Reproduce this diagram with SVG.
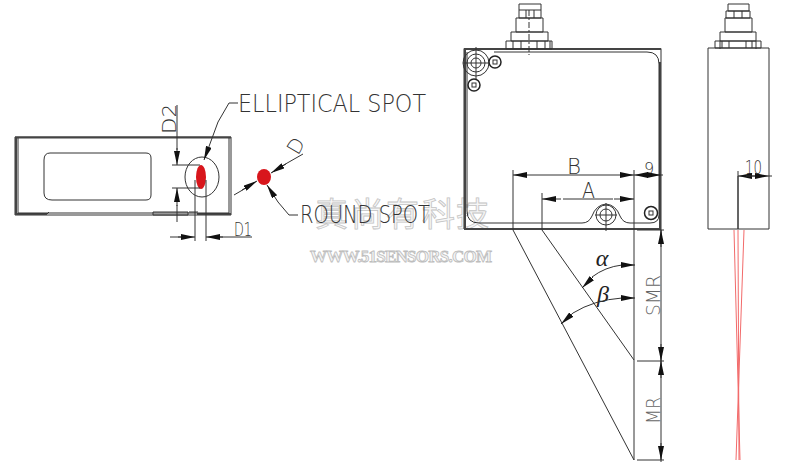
<svg xmlns="http://www.w3.org/2000/svg" width="800" height="465" viewBox="0 0 800 465">
<style>
.l{fill:none;stroke:#333;stroke-width:1}
.h{fill:none;stroke:#444;stroke-width:2}
.g{fill:none;stroke:#555;stroke-width:1}
.t{font-family:"DejaVu Sans","Liberation Sans",sans-serif;font-weight:200;fill:#333}
.m{font-family:"DejaVu Sans","Liberation Sans",sans-serif;font-weight:200;fill:#666}
.w{font-family:"Noto Sans CJK SC",sans-serif;font-size:33px;fill:#f6f6f6;stroke:#c4c4c4;stroke-width:.8}
.u{font-family:"Liberation Serif",serif;font-weight:700;font-size:17px;fill:#f4f4f4;stroke:#bdbdbd;stroke-width:.8}
.r{fill:none;stroke:#f26a6a;stroke-width:1}
.ar{fill:none;stroke:#333;stroke-width:1;marker-end:url(#a)}
</style>
<defs>
<marker id="a" markerUnits="userSpaceOnUse" markerWidth="14" markerHeight="6" refX="14" refY="3" orient="auto"><path d="M0 0L14 3L0 6z" fill="#111"/></marker>
</defs>
<rect width="800" height="465" fill="#fff"/>
<g id="watermark">
<text class="w" x="315" y="226">真</text><text class="w" x="351" y="226">尚</text><text class="w" x="386" y="226">有</text><text class="w" x="422" y="226">科</text><text class="w" x="456" y="226">技</text>
<text class="u" x="310" y="262" textLength="182">WWW.51SENSORS.COM</text>
</g>
<g id="front-view">
<path class="l" d="M15 137H231V215H15Z"/>
<path class="h" d="M15 137.500H231M16 137V214M15 214H47M197 214H231"/>
<path class="l" d="M18 138V213H229V138M47 214L49 212M153 212H188V215H153ZM189 212H198"/>
<path class="l" d="M50 153H146Q151 153 151 158V195Q151 200 146 200H52Q44 200 44 193V160Q44 153 50 153Z"/>
<ellipse class="l" cx="202" cy="177" rx="17" ry="20"/>
</g>
<g id="elliptical-spot">
<ellipse cx="201" cy="177" rx="5" ry="12" fill="#d8161c"/>
<text class="t" x="238" y="112" font-size="25" textLength="188" lengthAdjust="spacingAndGlyphs">ELLIPTICAL SPOT</text>
</g>
<g id="round-spot">
<ellipse cx="264" cy="177" rx="7" ry="8" fill="#d8161c"/>
<text class="t" x="300" y="223" font-size="25" textLength="130" lengthAdjust="spacingAndGlyphs">ROUND SPOT</text>
</g>
<g id="dim-labels">
<text class="t" transform="translate(176 134) rotate(-90)" font-size="20" textLength="30" lengthAdjust="spacingAndGlyphs">D2</text>
<text class="t" x="234" y="236" font-size="20" textLength="18" lengthAdjust="spacingAndGlyphs">D1</text>
<text class="t" transform="translate(298 156) rotate(-60)" font-size="20">D</text>
<text class="t" x="567" y="174" font-size="21" textLength="14" lengthAdjust="spacingAndGlyphs">B</text>
<text class="t" x="582" y="198" font-size="21" textLength="13" lengthAdjust="spacingAndGlyphs">A</text>
<text class="t" x="644" y="174" font-size="16">9</text>
<text class="t" x="745" y="174" font-size="19" textLength="17" lengthAdjust="spacingAndGlyphs">10</text>
<text x="602" y="266" font-family="'Liberation Serif',serif" font-style="italic" font-size="24" fill="#222" text-anchor="middle">α</text>
<text x="603" y="302" font-family="'Liberation Serif',serif" font-style="italic" font-size="24" fill="#222" text-anchor="middle">β</text>
<text class="m" transform="translate(660 316) rotate(-90)" font-size="19" textLength="41" lengthAdjust="spacingAndGlyphs">SMR</text>
<text class="m" transform="translate(660 424) rotate(-90)" font-size="19" textLength="27" lengthAdjust="spacingAndGlyphs">MR</text>
</g>
<g id="side-body">
<path class="l" d="M464 48.500H661V229H464Z"/>
<path class="h" d="M464 49H661M465 49V229M464 229H661M660 62V229"/>
<path class="l" d="M467 52V211Q467 223 479 223H582Q589 223 592 216Q596 205 606 204Q616 205 620 216Q623 223 630 223H650Q659 223 659 215V64Q659 52 647 52H494"/>
<circle class="l" cx="476" cy="63" r="13"/><circle class="l" cx="476" cy="63" r="9"/><circle class="l" cx="476" cy="63" r="5"/>
<path class="l" d="M463 63H490M476 47V80"/>
<circle cx="495" cy="62" r="6" fill="#fff" stroke="#222" stroke-width="1.500"/><rect x="493" y="60" width="4" height="4" class="l"/>
<circle cx="474" cy="85" r="6" fill="#fff" stroke="#222" stroke-width="1.500"/><rect x="472" y="83" width="4" height="4" class="l"/>
<circle cx="651" cy="213" r="6.500" fill="#fff" stroke="#222" stroke-width="1.500"/><rect x="649" y="211" width="4" height="4" class="l"/>
<circle class="l" cx="606" cy="215" r="10"/><circle class="l" cx="606" cy="215" r="6"/>
<path class="l" d="M595 215H617M606 203V231"/>
</g>
<g id="side-connector">
<path class="l" d="M519 4H541V18H519ZM519 10H541M526 10V18M534 10V18M516 18H543V32H516ZM511 32H548V41H511ZM506 41H552V49H506ZM513 41V49M521 41V49M537 41V49M545 41V49M550 41V49"/>
<path class="l" stroke-dasharray="6 2 2 2" d="M529 10V55"/>
</g>
<g id="end-body">
<path class="l" d="M708 48H769V229H708Z"/>
<path class="l" d="M728 4H749V11H728ZM726 11H750V18H726ZM734 11V18M742 11V18M725 18H752V32H725ZM720 32H756V41H720ZM715 41H761V48H715ZM720 41V49M722 41V48M729 41V48M746 41V48M752 41V48M756 41V49"/>
</g>
<g id="laser-beam">
<path class="r" d="M734 230L740 460M738 230L739 460M744 230L736 460"/>
</g>
<g id="connectors">
<path class="l" d="M229 103H238M229 103L218 122M289 215H298M289 215L278 202"/>
<path class="ar" d="M218 122L204 160"/>
<path class="ar" d="M278 202L267 185"/>
<path class="l" d="M177 105V150M177 205V222M172 165H200M172 188H200M195 180V241M206 180V241M170 237H181M220 237H252"/>
<path class="ar" d="M177 148V165"/>
<path class="ar" d="M177 206V188"/>
<path class="ar" d="M178 237H195"/>
<path class="ar" d="M223 237H206"/>
<path class="l" d="M234 195L246 188M282 166L303 154"/>
<path class="ar" d="M242 190L257 181"/>
<path class="ar" d="M286 164L271 173"/>
<path class="l" d="M513 170V230L634 460M542 193V230L634 360M634 170V460M637 230H664M637 361H664M637 460H664M661 229V462M738 171V229M661 175H663M769 176H772"/>
<path class="ar" d="M540 175H513"/>
<path class="ar" d="M607 175H634"/>
<path class="l" d="M540 175H607M563 199H613"/>
<path class="ar" d="M561 199H542"/>
<path class="ar" d="M614 199H634"/>
<path class="ar" d="M648 175H634"/>
<path class="ar" d="M647 175H661"/>
<path class="ar" d="M761 176H738"/>
<path class="ar" d="M746 176H769"/>
<path class="ar" d="M661 247V230"/>
<path class="ar" d="M661 344V361"/>
<path class="ar" d="M661 378V361"/>
<path class="ar" d="M661 443V460"/>
<path class="l" d="M592 277Q605 267 622 265M573 313Q594 300 622 298"/>
<path class="ar" d="M621 265H635"/>
<path class="ar" d="M593 277L582 288"/>
<path class="ar" d="M621 298H635"/>
<path class="ar" d="M573 313L561 324"/>
<path class="l" d="M738 176V229"/>
</g>
</svg>
